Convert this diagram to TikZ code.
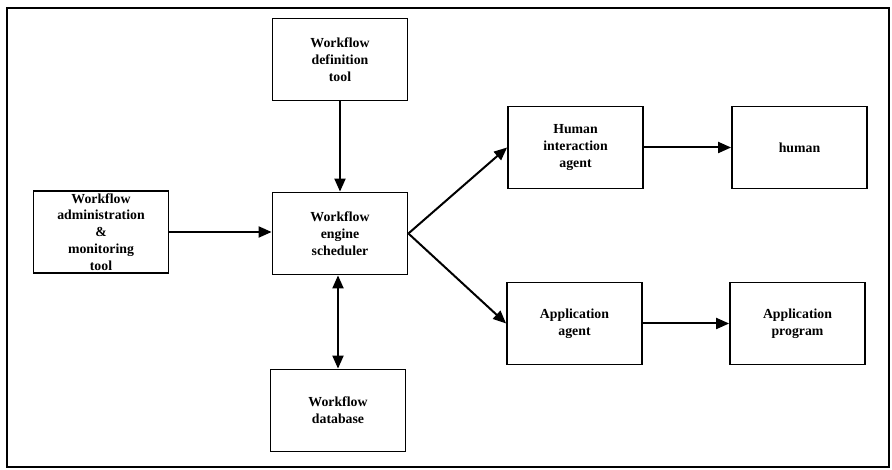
\documentclass[tikz,border=0pt]{standalone}
\usepackage{fontspec}
\setmainfont{Liberation Serif}
\usetikzlibrary{arrows.meta, positioning}

\begin{document}
\begin{tikzpicture}[x=1pt, y=-1pt, >={Triangle[length=13pt, width=11pt]},
  box/.style={draw, line width=1.8pt, minimum width=135pt, minimum height=82pt,
    inner sep=0pt, align=center, font=\fontsize{13.8}{16.8}\selectfont\bfseries},
  link/.style={->, line width=2pt}]
  \useasboundingbox (0,0) rectangle (892,470);
  % outer frame
  \draw[line width=1.6pt] (7,8) rectangle (889,467);
  % workflow side
  \node[box] (deftool) at (340,59.5) {Workflow\\definition\\tool};
  \node[box] (engine) at (340,233.5) {Workflow\\engine\\scheduler};
  \node[box] (admin) at (101,232) {Workflow\\administration\\\&\\monitoring\\tool};
  \node[box] (database) at (338,410.5) {Workflow\\database};
  % agents
  \node[box] (hagent) at (575.5,147.5) {Human\\interaction\\agent};
  \node[box] (human) at (799.5,147.5) {human};
  \node[box] (aagent) at (574.5,323.5) {Application\\agent};
  \node[box] (aprog) at (797.5,323.5) {Application\\program};
  % connectors
  \draw[link] (deftool) -- (engine);
  \draw[link] (admin.east) -- (admin.east -| engine.west);
  \draw[link, <->] (engine.south -| database.north) -- (database.north);
  \draw[link] (engine.east) -- (hagent.west);
  \draw[link] (engine.east) -- (aagent.west);
  \draw[link] (hagent) -- (human);
  \draw[link] (aagent) -- (aprog);
\end{tikzpicture}
\end{document}
